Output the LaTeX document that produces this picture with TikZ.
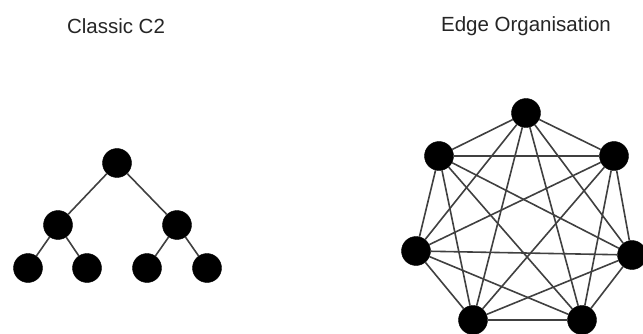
\documentclass[tikz,border=0pt]{standalone}
\usepackage{fontspec}
\setmainfont{Liberation Sans}
\begin{document}
\begin{tikzpicture}[x=1pt,y=-1pt,
  dot/.style={circle,fill=black,draw=black,inner sep=0pt,minimum size=29pt},
  link/.style={draw=black!75,line width=1.6pt},
  title/.style={font=\fontsize{20.5}{24}\selectfont,text=black!85}]
\useasboundingbox[fill=white] (0,0) rectangle (643,334);
\node[title] (t1) at (116,26) {Classic C2};
\node[title] (t2) at (526,26) {Edge Organisation};
% tree
\node[dot] (r) at (117,163) {};
\node[dot] (a) at (58,225) {};
\node[dot] (b) at (177,225) {};
\node[dot] (a1) at (28,268) {};
\node[dot] (a2) at (87,268) {};
\node[dot] (b1) at (147,268) {};
\node[dot] (b2) at (207,268) {};
\draw[link] (r)--(a) (r)--(b) (a)--(a1) (a)--(a2) (b)--(b1) (b)--(b2);
% complete graph
\node[dot] (n1) at (526,113) {};
\node[dot] (n2) at (614,156) {};
\node[dot] (n3) at (632,255) {};
\node[dot] (n4) at (582,320) {};
\node[dot] (n5) at (473,320) {};
\node[dot] (n6) at (416,251) {};
\node[dot] (n7) at (439,156) {};
\foreach \i in {1,...,7}{
  \foreach \j in {1,...,7}{
    \ifnum\i<\j \draw[link] (n\i)--(n\j); \fi
  }
}
\end{tikzpicture}
\end{document}
